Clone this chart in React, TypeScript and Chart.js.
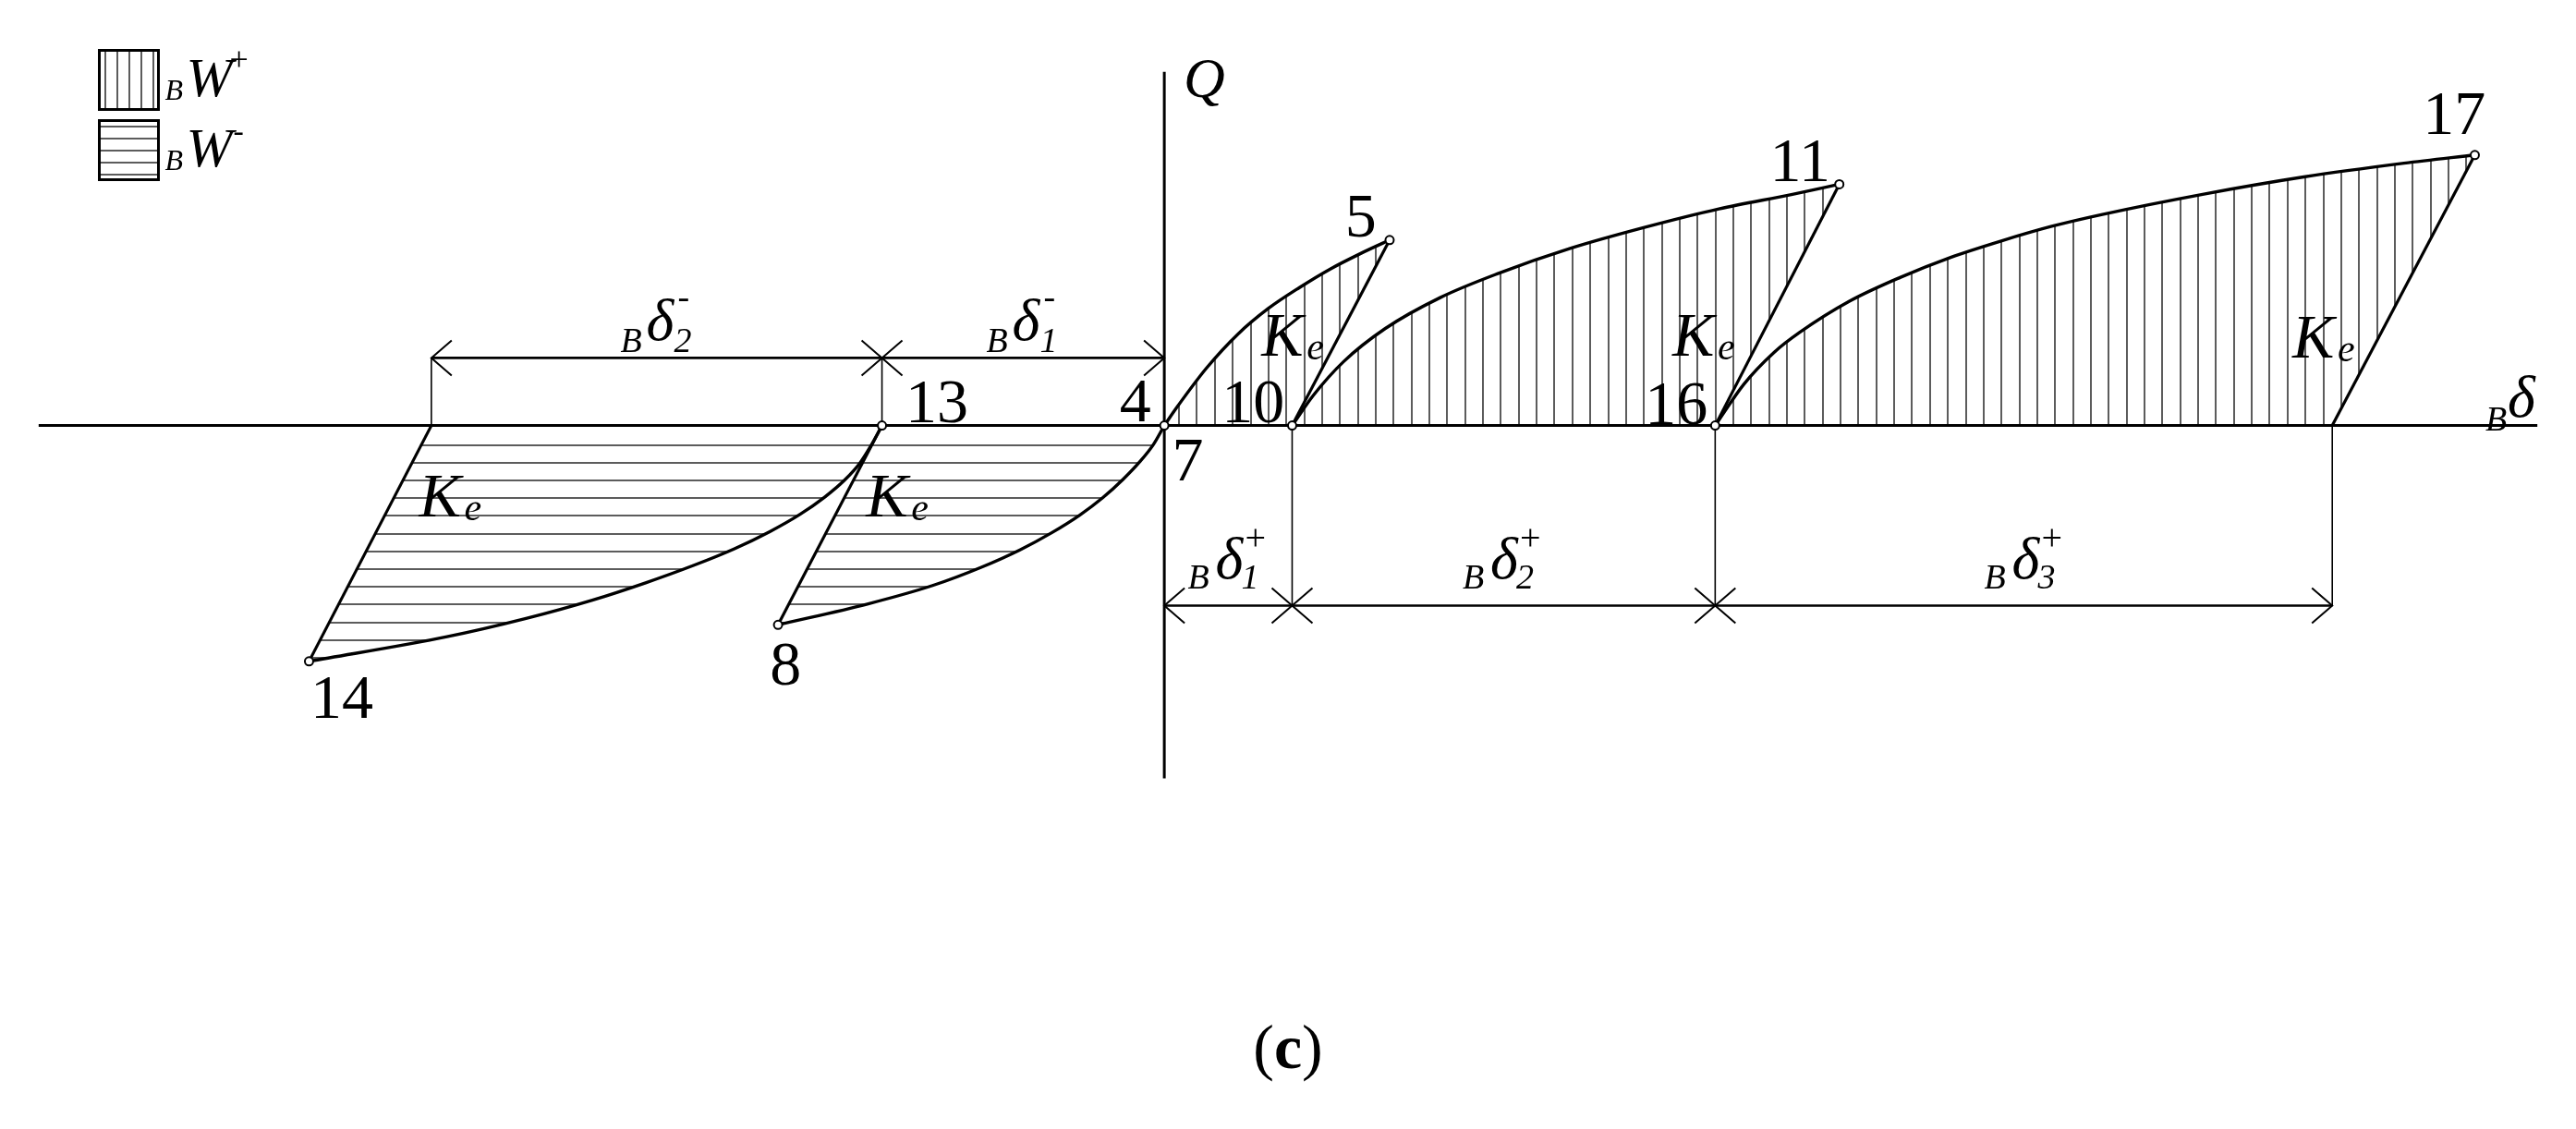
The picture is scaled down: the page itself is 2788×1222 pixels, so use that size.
import React, { useEffect, useRef } from 'react';
import { Chart, registerables } from 'chart.js';

Chart.register(...registerables);

type Pt = [number, number];

// ---------------- diagram values (δ horizontal, Q vertical, diagram units) ----------------
const origin: Pt = [0, 0]; // points 4 and 7
const point5: Pt = [2.45, 2.03];
const point10: Pt = [1.39, 0];
const point11: Pt = [7.34, 2.64];
const point16: Pt = [5.99, 0];
const point17: Pt = [14.25, 2.96];
const keEndPos: Pt = [12.7, 0];
const point13: Pt = [-3.07, 0];
const point8: Pt = [-4.2, -2.18];
const point14: Pt = [-9.3, -2.58];
const keEndNeg: Pt = [-7.97, 0];

const curve4to5: Pt[] = [origin, [0.13, 0.19], [0.46, 0.63], [0.8, 1.0], [1.13, 1.28], [1.47, 1.51], [1.8, 1.71], [2.13, 1.88], point5];
const curve10to11: Pt[] = [point10, [1.62, 0.33], [1.95, 0.7], [2.4, 1.06], [3.0, 1.4], [3.62, 1.66], [4.42, 1.94], [5.23, 2.17], [6.03, 2.37], [6.83, 2.53], point11];
const curve16to17: Pt[] = [point16, [6.3, 0.45], [6.63, 0.8], [6.91, 1.02], [7.45, 1.36], [8.0, 1.62], [8.55, 1.84], [9.1, 2.02], [9.65, 2.18], [10.2, 2.31], [11.29, 2.53], [12.39, 2.72], [13.48, 2.87], point17];
const curve7to8: Pt[] = [origin, [-0.12, -0.21], [-0.27, -0.4], [-0.45, -0.59], [-0.67, -0.79], [-0.92, -0.98], [-1.22, -1.17], [-1.57, -1.36], [-1.99, -1.55], [-2.52, -1.75], [-3.22, -1.95], point8];
const curve13to14: Pt[] = [point13, [-3.19, -0.22], [-3.31, -0.41], [-3.47, -0.59], [-3.69, -0.78], [-3.96, -0.97], [-4.29, -1.16], [-4.68, -1.35], [-5.12, -1.53], [-5.64, -1.72], [-6.22, -1.91], [-6.94, -2.11], [-7.8, -2.31], point14];

const ke5to10: Pt[] = [point5, point10];
const ke11to16: Pt[] = [point11, point16];
const ke17: Pt[] = [point17, keEndPos];
const ke8to13: Pt[] = [point8, point13];
const ke14: Pt[] = [point14, keEndNeg];

const markerPoints: Pt[] = [origin, point5, point10, point11, point16, point17, point13, point8, point14];

const deltaAxis: Pt[] = [[-12.24, 0], [14.93, 0]];
const qAxis: Pt[] = [[0, 3.87], [0, -3.86]];

const topDimLevel = 0.74;
const topDimStops = [-7.97, -3.07, 0];
const bottomDimLevel = -1.97;
const bottomDimStops = [0, 1.39, 5.99, 12.7];

// annotation texts and their anchors (diagram units)
const pointLabelText = ['4', '7', '10', '5', '11', '16', '17', '13', '8', '14'];
const pointLabelAt: Pt[] = [[-0.485, 0.05], [0.085, -0.6], [0.625, 0.04], [1.965, 2.07], [6.585, 2.67], [5.225, 0.02], [13.685, 3.19], [-2.815, 0.04], [-4.29, -2.83], [-9.285, -3.2]];
const keLabelAt: Pt[] = [[1.055, 0.76], [5.525, 0.76], [12.265, 0.74], [-8.105, -0.99], [-3.245, -0.99]];
const negDimSubs = ['2', '1'];
const negDimAt: Pt[] = [[-5.915, 0.8], [-1.935, 0.8]];
const posDimSubs = ['1', '2', '3'];
const posDimAt: Pt[] = [[0.255, -1.78], [3.245, -1.78], [8.915, -1.78]];
const qLabelAt: Pt = [0.21, 3.59];
const deltaLabelAt: Pt = [14.365, -0.05];
const legendItems = ['+', '-'];
const caption = ['(', 'c', ')'];

const X_MIN = -12.595, X_MAX = 15.285, Y_MIN = -7.63, Y_MAX = 4.59;

// ---------------- styles ----------------
const SERIF = '"Liberation Serif", "Times New Roman", serif';
const HATCH = '#5c5c5c';
const fnt = (size: number, style = '') => `${style ? style + ' ' : ''}${size}px ${SERIF}`;

type Part = [string, number, string, number, number];
function drawParts(ctx: CanvasRenderingContext2D, x: number, y: number, parts: Part[]) {
  for (const [t, size, style, dx, dy] of parts) {
    ctx.font = fnt(size, style);
    ctx.fillText(t, x + dx, y + dy);
  }
}

const toXY = (a: Pt[]) => a.map(([x, y]) => ({ x, y }));

function tracePath(chart: any, ctx: CanvasRenderingContext2D, labels: string[]) {
  let started = false;
  for (const lab of labels) {
    const idx = chart.data.datasets.findIndex((d: any) => d.label === lab);
    const meta = chart.getDatasetMeta(idx);
    const line: any = meta.dataset;
    if (line && line.updateControlPoints) line.updateControlPoints(chart.chartArea, 'x');
    const pts: any[] = meta.data;
    const curved = chart.data.datasets[idx].cubicInterpolationMode === 'monotone';
    pts.forEach((p: any, i: number) => {
      if (i === 0) {
        if (started) ctx.lineTo(p.x, p.y); else ctx.moveTo(p.x, p.y);
        started = true;
        return;
      }
      const q = pts[i - 1];
      if (curved && q.cp2x !== undefined && p.cp1x !== undefined) ctx.bezierCurveTo(q.cp2x, q.cp2y, p.cp1x, p.cp1y, p.x, p.y);
      else ctx.lineTo(p.x, p.y);
    });
  }
  ctx.closePath();
}

const diagramPlugin = {
  id: 'diagram',
  beforeDatasetsDraw(chart: any) {
    const ctx: CanvasRenderingContext2D = chart.ctx;
    const xs = chart.scales.x, ys = chart.scales.y;
    const area = chart.chartArea;
    const x0 = xs.getPixelForValue(0);
    const y0 = ys.getPixelForValue(0);
    // positive work: vertical hatching
    ctx.save();
    ctx.beginPath();
    tracePath(chart, ctx, ['curve 4-5', 'Ke 5-10', 'curve 10-11', 'Ke 11-16', 'curve 16-17', 'Ke 17']);
    ctx.clip();
    ctx.strokeStyle = HATCH;
    ctx.lineWidth = 2;
    ctx.beginPath();
    for (let x = x0 + 16; x < area.right; x += 19.35) {
      ctx.moveTo(Math.round(x), area.top);
      ctx.lineTo(Math.round(x), area.bottom);
    }
    ctx.stroke();
    ctx.restore();
    // negative work: horizontal hatching
    ctx.save();
    ctx.beginPath();
    tracePath(chart, ctx, ['curve 7-8', 'Ke 8-13', 'curve 13-14', 'Ke 14']);
    ctx.clip();
    ctx.strokeStyle = HATCH;
    ctx.lineWidth = 2;
    ctx.beginPath();
    for (let y = y0 + 21; y < area.bottom; y += 19.2) {
      ctx.moveTo(area.left, Math.round(y));
      ctx.lineTo(area.right, Math.round(y));
    }
    ctx.stroke();
    ctx.restore();
  },
  afterDatasetsDraw(chart: any) {
    const ctx: CanvasRenderingContext2D = chart.ctx;
    const xs = chart.scales.x, ys = chart.scales.y;
    const area = chart.chartArea;
    const X = (v: number) => xs.getPixelForValue(v);
    const Y = (v: number) => ys.getPixelForValue(v);

    // dimension arrowheads
    ctx.save();
    ctx.strokeStyle = '#000';
    ctx.lineWidth = 2;
    const arrow = (tx: number, ty: number, dir: number) => {
      ctx.beginPath();
      ctx.moveTo(tx - dir * 22, ty - 19);
      ctx.lineTo(tx, ty);
      ctx.lineTo(tx - dir * 22, ty + 19);
      ctx.stroke();
    };
    const dims: [number[], number][] = [[topDimStops, topDimLevel], [bottomDimStops, bottomDimLevel]];
    for (const [stops, level] of dims) {
      for (let i = 0; i < stops.length - 1; i++) {
        arrow(X(stops[i]), Y(level), -1);
        arrow(X(stops[i + 1]), Y(level), 1);
      }
    }
    ctx.restore();

    // texts
    ctx.save();
    ctx.fillStyle = '#000';
    ctx.textAlign = 'left';
    ctx.textBaseline = 'alphabetic';
    pointLabelText.forEach((t, i) => drawParts(ctx, X(pointLabelAt[i][0]), Y(pointLabelAt[i][1]), [[t, 68, '', 0, 0]]));
    keLabelAt.forEach(([x, y]) => drawParts(ctx, X(x), Y(y), [['K', 68, 'italic', 0, 0], ['e', 42, 'italic', 49, 4]]));
    negDimSubs.forEach((s, i) => drawParts(ctx, X(negDimAt[i][0]), Y(negDimAt[i][1]), [
      ['B', 38, 'italic', 0, 0], ['δ', 64, 'italic', 28, -13], [s, 38, 'italic', 58, 0], ['-', 38, '', 62, -47],
    ]));
    posDimSubs.forEach((s, i) => drawParts(ctx, X(posDimAt[i][0]), Y(posDimAt[i][1]), [
      ['B', 38, 'italic', 0, 0], ['δ', 64, 'italic', 30, -11], [s, 38, 'italic', 58, 0], ['+', 40, '', 62, -42],
    ]));
    drawParts(ctx, X(qLabelAt[0]), Y(qLabelAt[1]), [['Q', 62, 'italic', 0, 0]]);
    drawParts(ctx, X(deltaLabelAt[0]), Y(deltaLabelAt[1]), [['B', 38, 'italic', 0, 0], ['δ', 64, 'italic', 24, -15]]);

    // legend
    const lx = area.left + 101, box = 64;
    legendItems.forEach((sign, i) => {
      const ty = area.top + 48 + i * 76;
      ctx.save();
      ctx.strokeStyle = HATCH;
      ctx.lineWidth = 2;
      ctx.beginPath();
      for (let k = 0; k < 5; k++) {
        if (i === 0) {
          const x = Math.round(lx + 6 + k * 13);
          ctx.moveTo(x, ty); ctx.lineTo(x, ty + box);
        } else {
          const y = Math.round(ty + 6 + k * 13);
          ctx.moveTo(lx, y); ctx.lineTo(lx + box, y);
        }
      }
      ctx.stroke();
      ctx.strokeStyle = '#000';
      ctx.lineWidth = 3;
      ctx.strokeRect(lx, ty, box, box);
      ctx.restore();
      const parts: Part[] = [['B', 32, 'italic', 0, 0], ['W', 60, 'italic', 23, -4]];
      if (sign === '+') parts.push(['+', 36, '', 70, -32]);
      else parts.push(['-', 34, '', 74, -31]);
      drawParts(ctx, lx + 71, ty + 53, parts);
    });

    // caption
    ctx.font = fnt(68);
    const w1 = ctx.measureText(caption[0]).width;
    const w3 = ctx.measureText(caption[2]).width;
    ctx.font = fnt(68, 'bold');
    const w2 = ctx.measureText(caption[1]).width;
    const cx = (area.left + area.right) / 2 - (w1 + w2 + w3) / 2;
    const cy = area.bottom - 60;
    drawParts(ctx, cx, cy, [[caption[0], 68, '', 0, 0], [caption[1], 68, 'bold', w1, 0], [caption[2], 68, '', w1 + w2, 0]]);
    ctx.restore();
  },
};

function lineSet(label: string, data: Pt[], width: number, curved = false): any {
  return {
    label,
    data: toXY(data),
    borderColor: '#000',
    borderWidth: width,
    pointRadius: 0,
    fill: false,
    tension: 0,
    cubicInterpolationMode: curved ? 'monotone' : 'default',
  };
}

export default function App() {
  const ref = useRef<HTMLCanvasElement | null>(null);
  useEffect(() => {
    if (!ref.current) return;
    const extTop: any[] = topDimStops.filter((s) => s !== 0).map((s, i) => lineSet('ext top ' + i, [[s, 0], [s, topDimLevel]], 1.6));
    const extBottom: any[] = bottomDimStops.filter((s) => s !== 0).map((s, i) => lineSet('ext bottom ' + i, [[s, 0], [s, bottomDimLevel]], 1.6));
    const datasets: any[] = [
      {
        label: 'markers',
        data: toXY(markerPoints),
        showLine: false,
        pointRadius: 4.5,
        pointBorderWidth: 2,
        pointBackgroundColor: '#fff',
        pointBorderColor: '#000',
        borderColor: '#000',
      },
      lineSet('curve 4-5', curve4to5, 3.4, true),
      lineSet('Ke 5-10', ke5to10, 3.2),
      lineSet('curve 10-11', curve10to11, 3.4, true),
      lineSet('Ke 11-16', ke11to16, 3.2),
      lineSet('curve 16-17', curve16to17, 3.4, true),
      lineSet('Ke 17', ke17, 3.2),
      lineSet('curve 7-8', curve7to8, 3.4, true),
      lineSet('Ke 8-13', ke8to13, 3.2),
      lineSet('curve 13-14', curve13to14, 3.4, true),
      lineSet('Ke 14', ke14, 3.2),
      lineSet('δ axis', deltaAxis, 3),
      lineSet('Q axis', qAxis, 3),
      lineSet('dim top', [[topDimStops[0], topDimLevel], [topDimStops[topDimStops.length - 1], topDimLevel]], 2.6),
      lineSet('dim bottom', [[bottomDimStops[0], bottomDimLevel], [bottomDimStops[bottomDimStops.length - 1], bottomDimLevel]], 2.6),
      ...extTop,
      ...extBottom,
    ];
    const chart = new Chart(ref.current, {
      type: 'line',
      data: { datasets },
      options: {
        responsive: false,
        animation: false,
        devicePixelRatio: 1,
        events: [],
        layout: { padding: 0 },
        plugins: { legend: { display: false }, tooltip: { enabled: false }, title: { display: false } },
        scales: {
          x: { type: 'linear', display: false, min: X_MIN, max: X_MAX, bounds: 'data' },
          y: { type: 'linear', display: false, min: Y_MIN, max: Y_MAX, bounds: 'data' },
        },
      } as any,
      plugins: [diagramPlugin as any],
    });
    return () => chart.destroy();
  }, []);
  return (
    <div style={{ position: 'absolute', left: 0, top: 0, width: 2788, height: 1222, background: '#fff' }}>
      <canvas ref={ref} width={2788} height={1222} style={{ display: 'block', width: 2788, height: 1222 }} />
    </div>
  );
}
